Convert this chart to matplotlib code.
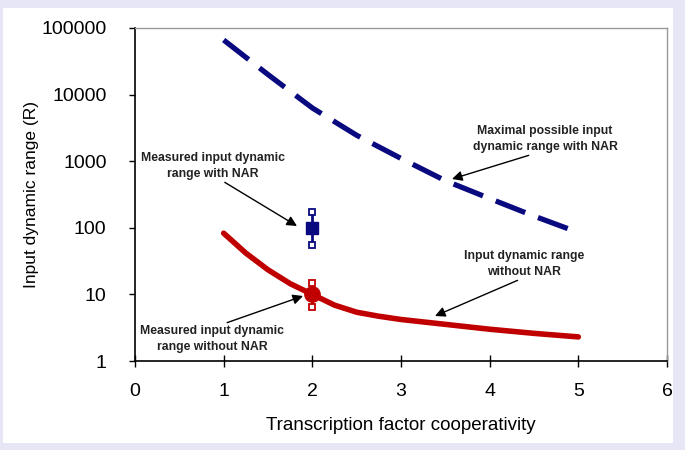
import matplotlib
matplotlib.use("Agg")
import matplotlib.pyplot as plt
from matplotlib.patches import Rectangle

plt.rcParams['font.family'] = ['Liberation Sans', 'DejaVu Sans']

# curves
coop_nar = [1, 1.5, 2, 2.5, 3, 3.5, 4, 4.5, 5]
max_range_nar = [66000, 20000, 6300, 2450, 1100, 510, 275, 150, 85]
coop = [1, 1.25, 1.5, 1.75, 2, 2.25, 2.5, 2.75, 3, 3.5, 4, 4.5, 5]
range_no_nar = [83, 41.7, 23.4, 14.5, 10, 6.9, 5.4, 4.7, 4.2, 3.55, 3.0, 2.6, 2.3]

# measured points with error bars
meas_x = [2]
meas_nar = [100]
meas_nar_lo = [55]
meas_nar_hi = [172]
meas_no_nar = [10]
meas_no_nar_lo = [6.5]
meas_no_nar_hi = [15]

xticks = [0, 1, 2, 3, 4, 5, 6]
yticks = [1, 10, 100, 1000, 10000, 100000]

blue = '#0a0a80'
red = '#c00000'

fig = plt.figure(figsize=(6.85, 4.5), dpi=100)
fig.patch.set_facecolor('#e6e6f7')
fig.patches.append(Rectangle((3 / 685, 1 - 443 / 450), 670 / 685, 435 / 450,
                             transform=fig.transFigure, facecolor='white',
                             edgecolor='none', zorder=-10))

ax = fig.add_axes([135 / 685, 1 - 361 / 450, 532 / 685, 333 / 450])
ax.set_yscale('log')
ax.set_xlim(0, 6)
ax.set_ylim(1, 100000)

ax.plot(coop_nar, max_range_nar, color=blue, lw=3.8, dashes=(6, 2.6), zorder=3)
ax.plot(coop, range_no_nar, color=red, lw=4, solid_capstyle='round',
        solid_joinstyle='round', zorder=3)

def err_point(x, y, lo, hi, color, marker, ms):
    ylo = [v - l for v, l in zip(y, lo)]
    yhi = [h - v for v, h in zip(y, hi)]
    ax.errorbar(x, y, yerr=[ylo, yhi], fmt='none', ecolor=color, elinewidth=2, zorder=4)
    ax.plot(x, lo, marker='s', ms=4, mfc='white', mec=color, mew=1.3, ls='none', zorder=5)
    ax.plot(x, hi, marker='s', ms=4, mfc='white', mec=color, mew=1.3, ls='none', zorder=5)
    ax.plot(x, y, marker=marker, ms=ms, color=color, ls='none', zorder=6)

err_point(meas_x, meas_nar, meas_nar_lo, meas_nar_hi, blue, 's', 8)
err_point(meas_x, meas_no_nar, meas_no_nar_lo, meas_no_nar_hi, red, 'o', 11)

ax.set_xticks(xticks)
ax.set_yticks(yticks)
ax.set_yticklabels([str(v) for v in yticks])
ax.minorticks_off()
ax.tick_params(axis='both', labelsize=14, colors='black')
ax.tick_params(axis='y', direction='out', length=4.5, width=1, pad=16)
ax.tick_params(axis='x', direction='inout', length=8, width=1, pad=12)

for s in ['top', 'right']:
    ax.spines[s].set_color('#999999')
    ax.spines[s].set_linewidth(1)
for s in ['left', 'bottom']:
    ax.spines[s].set_color('black')
    ax.spines[s].set_linewidth(1.2)

ax.set_xlabel('Transcription factor cooperativity', fontsize=13.5, labelpad=12)
ax.set_ylabel('Input dynamic range (R)', fontsize=12.5)
ax.yaxis.set_label_coords(-0.18, 0.5)

def px(xp, yp):
    return ((xp - 135) / 88.67, 10 ** ((361 - yp) / 66.6))

arrow = dict(arrowstyle='-|>', color='black', lw=1, mutation_scale=15, shrinkA=0, shrinkB=0)
txt = dict(fontsize=8.8, fontweight='bold', ha='center', va='center', color='#222222',
           linespacing=1.35)

ax.annotate('Measured input dynamic\nrange with NAR', xy=px(297, 226), xytext=px(213, 166),
            arrowprops=dict(arrow, relpos=(0.55, 0.0)), **txt)
ax.annotate('Maximal possible input\ndynamic range with NAR', xy=px(452, 179), xytext=px(545, 139),
            arrowprops=dict(arrow, relpos=(0.45, 0.0)), **txt)
ax.annotate('Input dynamic range\nwithout NAR', xy=px(435, 316), xytext=px(524, 264),
            arrowprops=dict(arrow, relpos=(0.5, 0.0)), **txt)
ax.annotate('Measured input dynamic\nrange without NAR', xy=px(303, 296), xytext=px(212, 339),
            arrowprops=dict(arrow, relpos=(0.55, 1.0)), **txt)

fig.savefig('out.png', dpi=100, facecolor=fig.get_facecolor())
